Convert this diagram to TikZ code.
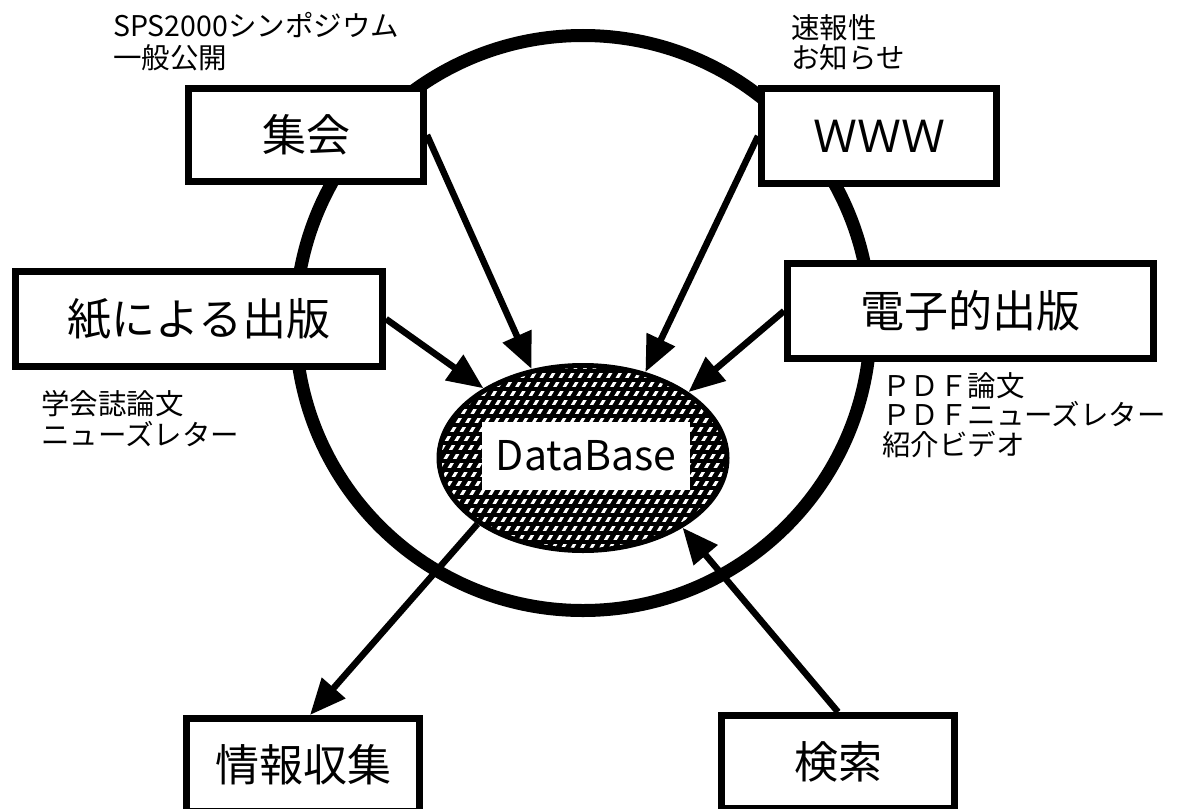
\documentclass[tikz,border=0pt]{standalone}
\usepackage{fontspec}
\setmainfont{Noto Sans CJK JP}
\usetikzlibrary{arrows.meta,shapes.geometric}
\begin{document}
\begin{tikzpicture}[x=1pt,y=-1pt,
  box/.style={draw, line width=7pt, fill=white, inner sep=0pt, font=\fontsize{44}{48}\selectfont},
  lbl/.style={anchor=base west, inner sep=0pt, font=\fontsize{28.5}{31}\selectfont},
  arr/.style={line width=6.5pt, -{Triangle[length=36pt,width=30pt]}}]
\useasboundingbox (0,0) rectangle (1177,808);
% outer ring
\node[circle, draw, line width=13pt, minimum size=575pt, inner sep=0pt] (ring) at (583,323) {};
% hatched database ellipse
\begin{scope}
  \clip (583,458) ellipse [x radius=143pt, y radius=92pt];
  \fill[black] (430,360) rectangle (740,560);
  \foreach \i in {0,...,45} \draw[white, line width=3pt] ({315+\i*9.5},565) -- ++(120,-200);
  \foreach \j in {0,...,22} \draw[black, line width=4.2pt] (430,{362+\j*9}) -- (740,{362+\j*9});
\end{scope}
\node[ellipse, draw, line width=5pt, minimum width=288pt, minimum height=185pt, inner sep=0pt] (db) at (583,458) {};
\node[fill=white, minimum width=208pt, minimum height=68pt, inner sep=0pt, font=\fontsize{41}{44}\selectfont] (dbl) at (586,456) {DataBase};
% boxes
\node[box, minimum width=235pt, minimum height=93pt] (shukai) at (306,135) {集会};
\node[box, minimum width=235pt, minimum height=95pt] (www) at (879,136) {ＷＷＷ};
\node[box, minimum width=367pt, minimum height=95pt] (kami) at (199,319) {紙による出版};
\node[box, minimum width=366pt, minimum height=95pt] (denshi) at (970.5,311) {電子的出版};
\node[box, minimum width=233pt, minimum height=93pt] (info) at (303,765) {情報収集};
\node[box, minimum width=233pt, minimum height=93pt] (kensaku) at (838,762) {検索};
% labels
\node[lbl] (sps1) at (113,37) {SPS2000シンポジウム};
\node[lbl] (sps2) at (113,68) {一般公開};
\node[lbl] (soku1) at (791,39) {速報性};
\node[lbl] (soku2) at (791,69) {お知らせ};
\node[lbl] (gak1) at (41,414) {学会誌論文};
\node[lbl] (gak2) at (41,445) {ニューズレター};
\node[lbl] (pdf1) at (882,396) {ＰＤＦ論文};
\node[lbl] (pdf2) at (882,425) {ＰＤＦニューズレター};
\node[lbl] (pdf3) at (882,455) {紹介ビデオ};
% arrows
\draw[arr] (shukai.east) -- (db.120);
\draw[arr] (kami.east) -- (db.145);
\draw[arr] (www.west) -- (db.54);
\draw[arr] (denshi.west) -- (db.32);
\draw[arr] (db.212) -- ([xshift=7pt]info.north);
\draw[arr] (kensaku.north) -- (db.325);
\end{tikzpicture}
\end{document}
